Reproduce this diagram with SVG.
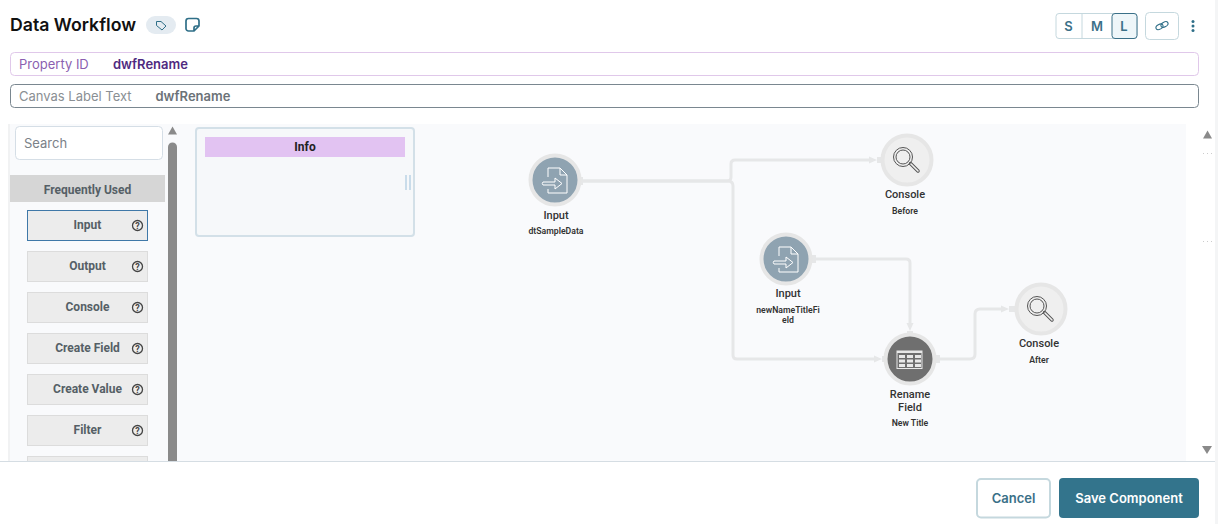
<svg xmlns="http://www.w3.org/2000/svg" width="1218" height="524" viewBox="0 0 1218 524">
<style>
.inter{font-family:Inter,"Liberation Sans",sans-serif}
.rb{font-family:Roboto,"Liberation Sans",sans-serif}
.palbox{fill:#ececec;stroke:#dcdcdc;stroke-width:1}
.pal{font-family:Roboto,"Liberation Sans",sans-serif;font-size:12px;font-weight:700;fill:#555f66;text-anchor:middle}
.conn{fill:none;stroke:#e6e7e8;stroke-width:3}
.arr{fill:#e6e7e8}
.lbl{font-family:Roboto,"Liberation Sans",sans-serif;font-size:11px;font-weight:500;fill:#333;text-anchor:middle}
.sub{font-family:Roboto,"Liberation Sans",sans-serif;font-size:8.7px;font-weight:600;fill:#333;text-anchor:middle}
.ring{stroke:#e6e6e6;stroke-width:4}
.ico{fill:none;stroke:#fff;stroke-width:1}
.mag{fill:none;stroke:#555;stroke-width:1}
.sz{font-family:Inter,"Liberation Sans",sans-serif;font-size:13px;font-weight:600;fill:#3a7088;text-anchor:middle}
</style>
<defs>
<g id="help"><circle r="5" fill="none" stroke="#444" stroke-width="1.300"/><text y="3.200" text-anchor="middle" font-size="9" font-weight="700" fill="#444" font-family="Roboto,'Liberation Sans',sans-serif">?</text></g>
<g id="inputIcon"><path class="ico" d="M-7 -3V-12H5L12 -5V13H-7V9M5 -12V-5H12"/><path class="ico" d="M-12 2H0V-2L7 3.500L0 9V5H-12Q-13.500 3.500 -12 2Z"/></g>
<g id="magIcon"><circle class="mag" cx="-4" cy="-3" r="9.500"/><circle class="mag" cx="-4" cy="-3" r="7"/><path d="M3.500 3.500L11 11" stroke="#555" stroke-width="3.500" stroke-linecap="round" fill="none"/><path d="M4 4L11 11" stroke="#efefef" stroke-width="1.600" stroke-linecap="round" fill="none"/></g>
</defs>
<rect width="1218" height="524" fill="#fff"/>
<g id="header">
<text x="10" y="31" class="inter" font-size="17.700" font-weight="600" fill="#111">Data Workflow</text>
<rect x="146" y="16" width="30" height="18" rx="9" fill="#e4ebf1"/>
<path d="M156.500 21.500h4.500l5 4.500-4 4-5.500-4.500z" fill="none" stroke="#2f6f88" stroke-width="1"/>
<path d="M186 23a4 4 0 0 1 0 0V21a2.500 2.500 0 0 1 2.500-2.500h8a2.500 2.500 0 0 1 2.500 2.500V26l-5 5h-5.500a2.500 2.500 0 0 1-2.500-2.500zM199 26h-3a2 2 0 0 0-2 2v3" fill="none" stroke="#2f6f88" stroke-width="1.700" stroke-linejoin="round"/>
<rect x="1056" y="13.500" width="81" height="25" rx="3" fill="#fff" stroke="#c5d8de"/>
<line x1="1082" y1="14" x2="1082" y2="38" stroke="#c5d8de"/>
<rect x="1112" y="13.500" width="25" height="25" rx="3" fill="#eef6f9" stroke="#3a7088"/>
<text x="1068.500" y="31" class="sz">S</text><text x="1097" y="31" class="sz">M</text><text x="1124" y="31" class="sz">L</text>
<rect x="1145.500" y="12.500" width="33" height="27" rx="4" fill="#fff" stroke="#c5d8de"/>
<g fill="none" stroke="#2f6f88" stroke-width="1.100"><ellipse cx="1159.500" cy="26.800" rx="3.800" ry="2.400" transform="rotate(-30 1159.500 26.800)"/><ellipse cx="1164.500" cy="24.500" rx="3.800" ry="2.400" transform="rotate(-30 1164.500 24.500)"/></g>
<g fill="#2f6f88"><circle cx="1193" cy="21.500" r="1.500"/><circle cx="1193" cy="26" r="1.500"/><circle cx="1193" cy="30.500" r="1.500"/></g>
</g>
<g id="fields">
<rect x="10.500" y="52.500" width="1188" height="23" rx="4" fill="#fff" stroke="#e0c8ea"/>
<text x="19" y="69" class="inter" font-size="13" fill="#8b5fb0">Property ID</text>
<text x="113" y="69" class="inter" font-size="13" font-weight="600" fill="#4f2a80">dwfRename</text>
<rect x="10.500" y="84.500" width="1188" height="23" rx="4" fill="#fff" stroke="#7a8790"/>
<text x="19" y="101" class="inter" font-size="13" fill="#8a8f94">Canvas Label Text</text>
<text x="155.500" y="101" class="inter" font-size="13" font-weight="600" fill="#6b7278">dwfRename</text>
</g>
<g id="canvas">
<rect x="8" y="124" width="1178" height="337" fill="#f9fafc"/>
<rect x="8" y="124" width="2" height="337" fill="#f1f2f3"/>
</g>
<g id="palette">
<rect x="15.500" y="126.500" width="147" height="33" rx="4" fill="#fff" stroke="#d5dee6"/>
<text x="24" y="148" class="inter" font-size="13" fill="#7b8188">Search</text>
<rect x="10" y="175" width="155" height="27" fill="#d6d6d6"/>
<text x="87.500" y="194" class="pal">Frequently Used</text>
<rect x="27.500" y="210.500" width="120" height="30" fill="#ececec" stroke="#3f78a8"/><text x="87.500" y="229" class="pal">Input</text><use href="#help" x="137.500" y="225.500"/>
<rect class="palbox" x="27.500" y="251.500" width="120" height="30"/><text x="87.500" y="270" class="pal">Output</text><use href="#help" x="137.500" y="266.500"/>
<rect class="palbox" x="27.500" y="292.500" width="120" height="30"/><text x="87.500" y="311" class="pal">Console</text><use href="#help" x="137.500" y="307.500"/>
<rect class="palbox" x="27.500" y="333.500" width="120" height="30"/><text x="87.500" y="352" class="pal">Create Field</text><use href="#help" x="137.500" y="348.500"/>
<rect class="palbox" x="27.500" y="374.500" width="120" height="30"/><text x="87.500" y="393" class="pal">Create Value</text><use href="#help" x="137.500" y="389.500"/>
<rect class="palbox" x="27.500" y="415.500" width="120" height="30"/><text x="87.500" y="434" class="pal">Filter</text><use href="#help" x="137.500" y="430.500"/>
<rect class="palbox" x="27.500" y="456.500" width="120" height="5"/>
<path d="M168 134.500l4.500-8 4.500 8z" fill="#8a8a8a"/>
<path d="M168 147a4.500 4.500 0 0 1 9 0V461h-9z" fill="#8a8a8a"/>
</g>
<g id="info">
<rect x="196" y="128" width="218" height="108" rx="3" fill="#f6f8fa" stroke="#d3e0e8" stroke-width="2"/>
<rect x="205" y="137" width="200" height="20" fill="#e2c3f2"/>
<text x="305" y="151" class="rb" font-size="12" font-weight="700" text-anchor="middle" fill="#222">Info</text>
<path d="M406 175v15M410 175v15" stroke="#c9dcea" stroke-width="2" fill="none"/>
</g>
<g id="connectors">
<path class="conn" d="M582 181H727Q731 181 731 177V164Q731 160 735 160H870"/>
<path class="arr" d="M869 156.500l8 3.500-8 3.500zM877 157h4v6h-4z"/>
<path class="conn" d="M582 181H728Q733 181 733 186V355Q733 359 737 359H876"/>
<path class="arr" d="M874 355.500l8 3.500-8 3.500zM882 356h4v6h-4z"/>
<path class="conn" d="M816 259H906Q910 259 910 263V325"/>
<path class="arr" d="M906.500 323l3.500 8 3.500-8zM907 331h6v4h-6z"/>
<path class="conn" d="M938 359H970Q975 359 975 354V314Q975 309 980 309H1003"/>
<path class="arr" d="M1001 305.500l8 3.500-8 3.500zM1009 306h6v6h-6z"/>
<path class="arr" d="M578 177h5v8h-5zM810 255h6v8h-6zM934 355h6v8h-6z"/>
</g>
<g id="node-input-1">
<circle class="ring" cx="555" cy="180" r="24.500" fill="#8fa3b1"/>
<use href="#inputIcon" x="555" y="180"/>
<text class="lbl" x="556" y="219">Input</text><text class="sub" x="556" y="234">dtSampleData</text>
</g>
<g id="node-console-before">
<circle class="ring" cx="907" cy="160" r="24.500" fill="#efefef"/>
<use href="#magIcon" x="907" y="160"/>
<text class="lbl" x="905" y="198">Console</text><text class="sub" x="905" y="214">Before</text>
</g>
<g id="node-input-2">
<circle class="ring" cx="786" cy="259" r="24.500" fill="#8fa3b1"/>
<use href="#inputIcon" x="786" y="259"/>
<text class="lbl" x="788" y="297">Input</text><text class="sub" x="788" y="313">newNameTitleFi</text><text class="sub" x="788" y="323">eld</text>
</g>
<g id="node-rename">
<circle class="ring" cx="910" cy="359" r="24.500" fill="#6f6f6f"/>
<rect x="897" y="351" width="25" height="17.500" fill="none" stroke="#e8e8e8" stroke-width="1"/>
<g fill="#e8e8e8"><rect x="897" y="351" width="25" height="2"/><rect x="899" y="355" width="6" height="3"/><rect x="907" y="355" width="6" height="3"/><rect x="915" y="355" width="6" height="3"/><rect x="899" y="359.500" width="6" height="3"/><rect x="907" y="359.500" width="6" height="3"/><rect x="915" y="359.500" width="6" height="3"/><rect x="899" y="364" width="6" height="3"/><rect x="907" y="364" width="6" height="3"/><rect x="915" y="364" width="6" height="3"/></g>
<text class="lbl" x="910" y="398">Rename</text><text class="lbl" x="910" y="411">Field</text><text class="sub" x="910" y="426">New Title</text>
</g>
<g id="node-console-after">
<circle class="ring" cx="1041" cy="309" r="24.500" fill="#efefef"/>
<use href="#magIcon" x="1041" y="309"/>
<text class="lbl" x="1039" y="347">Console</text><text class="sub" x="1039" y="363">After</text>
</g>
<g id="scrollbar">
<path d="M1203 138.500l4.500-8 4.500 8z" fill="#8a8a8a"/>
<path d="M1202 446h10l-5 8z" fill="#8a8a8a"/>
<g fill="#ccc"><rect x="1203" y="153" width="1" height="1"/><rect x="1207" y="153" width="1" height="1"/><rect x="1211" y="153" width="1" height="1"/><rect x="1203" y="241" width="1" height="1"/><rect x="1207" y="241" width="1" height="1"/><rect x="1211" y="241" width="1" height="1"/></g>
<rect x="1215" y="0" width="3" height="524" fill="#f4f5f6"/>
</g>
<g id="footer">
<rect x="0" y="461" width="1215" height="63" fill="#fff"/>
<line x1="0" y1="461.500" x2="1215" y2="461.500" stroke="#d5dde3"/>
<rect x="977" y="479" width="73" height="38.500" rx="4" fill="#fff" stroke="#c5d8de" stroke-width="2"/>
<text x="1013.500" y="503" class="inter" font-size="13" font-weight="600" fill="#3a7088" text-anchor="middle">Cancel</text>
<rect x="1059" y="478" width="140" height="40" rx="4" fill="#33748c"/>
<text x="1129" y="503" class="inter" font-size="13" font-weight="600" fill="#fff" text-anchor="middle">Save Component</text>
</g>
</svg>
